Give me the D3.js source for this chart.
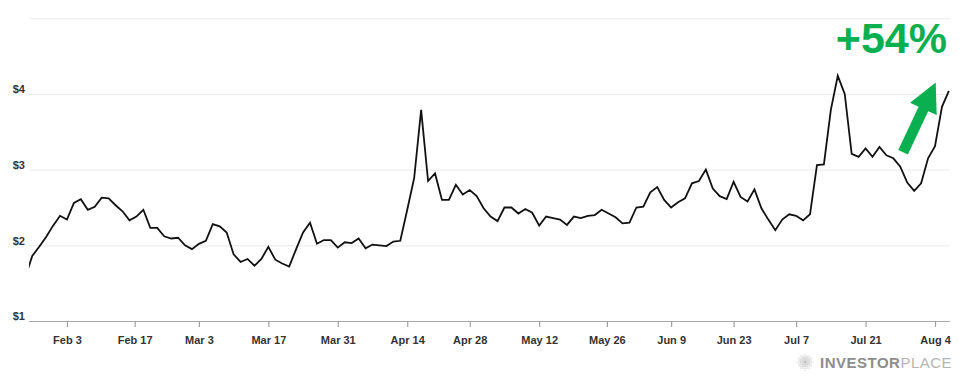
<!DOCTYPE html>
<html>
<head>
<meta charset="utf-8">
<script src="https://cdn.jsdelivr.net/npm/d3@7"></script>
<style>
  html, body { margin: 0; padding: 0; background: #fff; }
  svg { display: block; font-family: "Liberation Sans", Arial, Helvetica, sans-serif; }
</style>
</head>
<body>
<svg id="chart" width="975" height="384"></svg>
<script>
// ---------- DATA ----------
const firstDate = "2025-01-24";
const lastDate = "2025-08-06";
const marketHolidays = ["2025-02-17", "2025-04-18", "2025-05-26", "2025-06-19", "2025-07-04"];

// daily closing prices (USD), one per trading day from Jan 24 to Aug 6
const prices = [
  1.58, 1.86, 1.98, 2.11, 2.26, 2.39, 2.34, 2.56, 2.61, 2.47,
  2.51, 2.63, 2.62, 2.53, 2.45, 2.33, 2.38, 2.47, 2.23, 2.23,
  2.12, 2.09, 2.10, 2.00, 1.95, 2.02, 2.06, 2.28, 2.25, 2.17,
  1.88, 1.78, 1.82, 1.73, 1.82, 1.98, 1.81, 1.76, 1.72, 1.95,
  2.17, 2.30, 2.02, 2.07, 2.07, 1.97, 2.04, 2.03, 2.09, 1.96,
  2.01, 2.00, 1.99, 2.05, 2.06, 2.47, 2.89, 3.79, 2.85, 2.95,
  2.60, 2.60, 2.80, 2.67, 2.73, 2.65, 2.49, 2.38, 2.32, 2.50,
  2.50, 2.42, 2.48, 2.43, 2.26, 2.38, 2.36, 2.34, 2.27, 2.38,
  2.36, 2.39, 2.40, 2.47, 2.42, 2.37, 2.29, 2.30, 2.50, 2.51,
  2.70, 2.77, 2.60, 2.50, 2.57, 2.62, 2.82, 2.85, 3.00, 2.75,
  2.65, 2.61, 2.84, 2.64, 2.58, 2.74, 2.49, 2.34, 2.20, 2.34,
  2.41, 2.39, 2.33, 2.41, 3.06, 3.07, 3.79, 4.24, 4.00, 3.21,
  3.17, 3.28, 3.17, 3.30, 3.19, 3.15, 3.04, 2.83, 2.72, 2.82,
  3.15, 3.31, 3.83, 4.04
];

const xTickDates = ["2025-02-03", "2025-02-17", "2025-03-03", "2025-03-17", "2025-03-31", "2025-04-14", "2025-04-28",
                    "2025-05-12", "2025-05-26", "2025-06-09", "2025-06-23", "2025-07-07", "2025-07-21", "2025-08-04"];
const xTickLabels = ["Feb 3", "Feb 17", "Mar 3", "Mar 17", "Mar 31", "Apr 14", "Apr 28",
                     "May 12", "May 26", "Jun 9", "Jun 23", "Jul 7", "Jul 21", "Aug 4"];
const yTicks = [1, 2, 3, 4, 5];
const yTickLabels = ["$1", "$2", "$3", "$4", ""];

const gainLabel = "+54%";
// arrow annotation anchored in data space: [trading-day index, price]
const arrowTail = [126.4, 3.23];
const arrowTip = [131.1, 4.15];

// ---------- BUILD ----------
const parse = d3.utcParse("%Y-%m-%d");
const holidaySet = new Set(marketHolidays);
const tradingDays = d3.utcDays(parse(firstDate), d3.utcDay.offset(parse(lastDate), 1))
  .filter(d => d.getUTCDay() !== 0 && d.getUTCDay() !== 6 && !holidaySet.has(d3.utcFormat("%Y-%m-%d")(d)));
const data = tradingDays.map((d, i) => ({ date: d, i, value: prices[i] }));

const svg = d3.select("#chart");
const plotLeft = 29, plotRight = 950;

// index scale (trading-day position)
const xi = d3.scaleLinear().domain([0, 133]).range([25.3, 948.9]);
// time scale mapped piecewise onto trading days (weekends/holidays compressed)
const x = d3.scaleUtc()
  .domain(tradingDays)
  .range(tradingDays.map((d, i) => xi(i)));
const y = d3.scaleLinear().domain([1, 5]).range([321, 18.3]);

// gridlines + y labels
const yAxis = d3.axisLeft(y)
  .tickValues(yTicks)
  .tickSize(-(plotRight - plotLeft))
  .tickPadding(4)
  .tickFormat((d, k) => yTickLabels[k]);
const gy = svg.append("g").attr("transform", `translate(${plotLeft},0)`).call(yAxis);
gy.select(".domain").remove();
gy.selectAll(".tick line")
  .attr("stroke", d => d === 1 ? "#a9a9a9" : "#e9e9e9")
  .attr("stroke-width", d => d === 1 ? 1.2 : 1);
gy.selectAll(".tick text")
  .attr("dy", "-0.1em")
  .attr("fill", "#333")
  .style("font-size", "11px")
  .style("font-weight", "bold")
  .style("font-family", "'Liberation Sans', Arial, sans-serif");

// x axis
const xAxis = d3.axisBottom(x)
  .tickValues(xTickDates.map(parse))
  .tickSize(6)
  .tickPadding(9)
  .tickFormat((d, k) => xTickLabels[k]);
const gx = svg.append("g").attr("transform", `translate(0,${y(1)})`).call(xAxis);
gx.select(".domain").remove();
gx.selectAll(".tick line").attr("stroke", "#a0a0a0").attr("stroke-width", 1.2);
gx.selectAll(".tick text")
  .attr("fill", "#333")
  .style("font-size", "11px")
  .style("font-weight", "bold")
  .style("font-family", "'Liberation Sans', Arial, sans-serif");

// clip
svg.append("defs").append("clipPath").attr("id", "plotclip")
  .append("rect").attr("x", plotLeft).attr("y", 0)
  .attr("width", plotRight - plotLeft).attr("height", 384);

// price line
const line = d3.line().x(d => x(d.date)).y(d => y(d.value));
svg.append("path")
  .datum(data)
  .attr("clip-path", "url(#plotclip)")
  .attr("fill", "none")
  .attr("stroke", "#111")
  .attr("stroke-width", 1.8)
  .attr("d", line);

// gain label
const green = "#0aaf4f";
svg.append("text")
  .attr("x", 947).attr("y", 53)
  .attr("text-anchor", "end")
  .attr("fill", green)
  .style("font-size", "43px")
  .style("font-weight", "bold")
  .style("font-family", "'Liberation Sans', Arial, sans-serif")
  .text(gainLabel);

// arrow
(function () {
  const t = [xi(arrowTail[0]), y(arrowTail[1])];
  const h = [xi(arrowTip[0]), y(arrowTip[1])];
  const dx = h[0] - t[0], dy = h[1] - t[1];
  const len = Math.hypot(dx, dy);
  const u = [dx / len, dy / len];
  const n = [-u[1], u[0]];
  const headLen = 29, headHalf = 14.7, shaftHalf = 5.3;
  const b = [h[0] - u[0] * headLen, h[1] - u[1] * headLen];
  const pts = [
    [t[0] + n[0] * shaftHalf, t[1] + n[1] * shaftHalf],
    [b[0] + n[0] * shaftHalf, b[1] + n[1] * shaftHalf],
    [b[0] + n[0] * headHalf, b[1] + n[1] * headHalf],
    h,
    [b[0] - n[0] * headHalf, b[1] - n[1] * headHalf],
    [b[0] - n[0] * shaftHalf, b[1] - n[1] * shaftHalf],
    [t[0] - n[0] * shaftHalf, t[1] - n[1] * shaftHalf]
  ];
  svg.append("path")
    .attr("d", "M" + pts.map(p => p.join(",")).join("L") + "Z")
    .attr("fill", green);
})();

// logo
const logo = svg.append("g");
const cx = 805, cy = 362, r = 8;
for (let gxp = -8; gxp <= 8; gxp += 2) {
  for (let gyp = -8; gyp <= 8; gyp += 2) {
    const dd = Math.hypot(gxp, gyp);
    if (dd <= r) {
      logo.append("circle")
        .attr("cx", cx + gxp).attr("cy", cy + gyp)
        .attr("r", 0.95 * (1 - dd / (r * 2)))
        .attr("fill", "#a8a8a8");
    }
  }
}
const lt = logo.append("text")
  .attr("x", 820).attr("y", 368)
  .style("font-size", "15px")
  .style("letter-spacing", "0.5px")
  .style("font-family", "'Liberation Sans', Arial, sans-serif");
lt.append("tspan").attr("fill", "#8d8d8d").style("font-weight", "bold").text("INVESTOR");
lt.append("tspan").attr("fill", "#b4b4b4").style("font-weight", "normal").text("PLACE");
</script>
</body>
</html>
